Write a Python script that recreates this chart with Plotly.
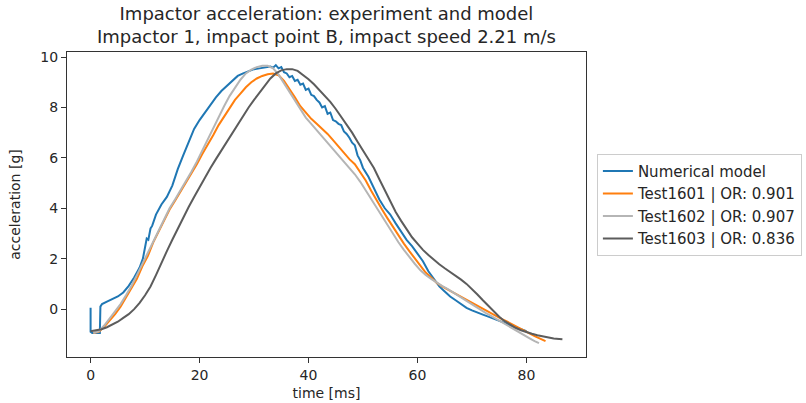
import plotly.graph_objects as go

# ---- data ----
model_t = [0, 0, 0.3, 1.7, 1.8, 2.1, 3, 4, 5, 6, 7, 8, 9, 9.6, 10.0, 10.3, 10.6, 11.0, 11.3, 12, 13, 14, 15, 16, 17, 18, 19, 20,
           21, 22, 23, 24, 25, 26, 27, 28, 29, 30, 31, 32, 33, 33.5, 34, 34.5, 35, 35.5, 36, 36.5, 37, 37.5, 38, 38.5, 39,
           39.5, 40, 40.5, 41, 41.5, 42, 42.5, 43, 43.5, 44, 44.5, 45, 45.5, 46, 46.5, 47, 47.5, 48, 48.5, 49, 49.5, 50,
           51, 52, 53, 54, 55, 56, 57, 58, 59, 60, 61, 62, 63, 64, 65, 66, 67, 68, 69, 70, 71, 72, 73, 74, 75, 76, 77, 78,
           79, 80]
model_a = [0.05, -0.9, -0.95, -0.95, 0.1, 0.2, 0.3, 0.4, 0.5, 0.66, 0.92, 1.25, 1.65, 2.0, 2.45, 2.8, 2.75, 3.2, 3.3, 3.75,
           4.15, 4.45, 4.9, 5.55, 6.1, 6.65, 7.15, 7.5, 7.8, 8.1, 8.4, 8.65, 8.85, 9.05, 9.25, 9.35, 9.45, 9.52, 9.55, 9.6,
           9.62, 9.58, 9.68, 9.55, 9.6, 9.4, 9.35, 9.2, 9.25, 9.05, 9.1, 8.9, 8.95, 8.7, 8.75, 8.5, 8.45, 8.3, 8.2, 8.0,
           8.05, 7.75, 7.8, 7.5, 7.45, 7.35, 7.3, 7.05, 6.95, 6.8, 6.6, 6.5, 6.1, 5.9, 5.6, 5.25, 4.8, 4.35, 4.0, 3.75,
           3.4, 3.05, 2.75, 2.5, 2.2, 1.9, 1.5, 1.2, 0.9, 0.7, 0.5, 0.35, 0.2, 0.05, -0.05, -0.15, -0.22, -0.3, -0.38,
           -0.46, -0.55, -0.63, -0.72, -0.8, -0.88]

t1601 = [0.5, 1.5, 2.5, 3.5, 4.5, 5.5, 6.5, 7.5, 8.5, 9.5, 10.5, 11.5, 12.5, 13.5, 14.5, 15.5, 16.5, 17.5, 18.5, 19.5, 20.5,
         21.5, 22.5, 23.5, 24.5, 25.5, 26.5, 27.5, 28.5, 29.5, 30.5, 31.5, 32.5, 33.5, 34.5, 35.5, 36.5, 37.5, 38.5, 39.5,
         40.5, 41.5, 42.5, 43.5, 44.5, 45.5, 46.5, 47.5, 48.5, 49.5, 50.5, 51.5, 52.5, 53.5, 54.5, 55.5, 56.5, 57.5, 58.5,
         59.5, 60.5, 61.5, 62.5, 63.5, 64.5, 65.5, 66.5, 67.5, 68.5, 69.5, 70.5, 71.5, 72.5, 73.5, 74.5, 75.5, 76.5, 77.5,
         78.5, 79.5, 80.5, 81.5, 82.5, 83.5]
a1601 = [-0.95, -0.9, -0.7, -0.45, -0.2, 0.1, 0.45, 0.8, 1.2, 1.7, 2.1, 2.65, 3.1, 3.55, 3.95, 4.3, 4.65, 5.0, 5.35, 5.75,
         6.15, 6.5, 6.9, 7.3, 7.65, 8.0, 8.3, 8.55, 8.8, 9.0, 9.15, 9.25, 9.32, 9.35, 9.28, 9.05, 8.75, 8.4, 8.05, 7.8,
         7.55, 7.35, 7.15, 6.95, 6.7, 6.45, 6.2, 5.95, 5.75, 5.45, 5.1, 4.7, 4.3, 3.95, 3.6, 3.25, 2.9, 2.6, 2.3, 2.0,
         1.7, 1.45, 1.25, 1.05, 0.9, 0.78, 0.68, 0.55, 0.42, 0.3, 0.18, 0.05, -0.07, -0.18, -0.3, -0.4, -0.5, -0.62,
         -0.73, -0.84, -0.95, -1.07, -1.17, -1.27]

t1602 = [0.5, 1.5, 2.5, 3.5, 4.5, 5.5, 6.5, 7.5, 8.5, 9.5, 10.5, 11.5, 12.5, 13.5, 14.5, 15.5, 16.5, 17.5, 18.5, 19.5, 20.5,
         21.5, 22.5, 23.5, 24.5, 25.5, 26.5, 27.5, 28.5, 29.5, 30.5, 31.5, 32.5, 33.5, 34.5, 35.5, 36.5, 37.5, 38.5, 39.5,
         40.5, 41.5, 42.5, 43.5, 44.5, 45.5, 46.5, 47.5, 48.5, 49.5, 50.5, 51.5, 52.5, 53.5, 54.5, 55.5, 56.5, 57.5, 58.5,
         59.5, 60.5, 61.5, 62.5, 63.5, 64.5, 65.5, 66.5, 67.5, 68.5, 69.5, 70.5, 71.5, 72.5, 73.5, 74.5, 75.5, 76.5, 77.5,
         78.5, 79.5, 80.5, 81.5, 82.3]
a1602 = [-0.95, -0.88, -0.65, -0.38, -0.1, 0.2, 0.55, 0.92, 1.35, 1.8, 2.2, 2.7, 3.15, 3.6, 4.0, 4.35, 4.7, 5.05, 5.45,
         5.85, 6.3, 6.75, 7.2, 7.65, 8.05, 8.45, 8.8, 9.1, 9.35, 9.5, 9.6, 9.65, 9.65, 9.55, 9.3, 8.95, 8.6, 8.25, 7.9,
         7.6, 7.35, 7.1, 6.85, 6.6, 6.35, 6.1, 5.85, 5.6, 5.35, 5.05, 4.7, 4.35, 4.0, 3.65, 3.3, 2.95, 2.65, 2.35, 2.05,
         1.8, 1.55, 1.35, 1.2, 1.05, 0.92, 0.8, 0.66, 0.52, 0.4, 0.25, 0.1, -0.03, -0.15, -0.27, -0.4, -0.52, -0.65,
         -0.77, -0.9, -1.02, -1.15, -1.27, -1.35]

t1603 = [0, 1, 2, 3, 4, 5, 6, 7, 8, 9, 10, 11, 12, 13, 14, 15, 16, 17, 18, 19, 20, 21, 22, 23, 24, 25, 26, 27, 28, 29, 30,
         31, 32, 33, 34, 35, 36, 37, 38, 39, 40, 41, 42, 43, 44, 45, 46, 47, 48, 49, 50, 51, 52, 53, 54, 55, 56, 57, 58,
         59, 60, 61, 62, 63, 64, 65, 66, 67, 68, 69, 70, 71, 72, 73, 74, 75, 76, 77, 78, 79, 80, 81, 82, 83, 84, 85, 86,
         86.6]
a1603 = [-0.88, -0.85, -0.8, -0.72, -0.62, -0.5, -0.35, -0.2, 0.0, 0.25, 0.55, 0.9, 1.35, 1.85, 2.3, 2.75, 3.2, 3.6, 4.05,
         4.45, 4.85, 5.25, 5.6, 5.95, 6.3, 6.65, 7.0, 7.35, 7.7, 8.0, 8.3, 8.6, 8.9, 9.15, 9.35, 9.47, 9.52, 9.52, 9.45,
         9.3, 9.12, 8.92, 8.7, 8.47, 8.22, 7.94, 7.64, 7.32, 7.0, 6.64, 6.3, 5.96, 5.6, 5.15, 4.7, 4.25, 3.85, 3.5, 3.15,
         2.85, 2.6, 2.35, 2.15, 1.95, 1.78, 1.62, 1.48, 1.33, 1.17, 1.0, 0.8, 0.58, 0.35, 0.12, -0.1, -0.3, -0.48, -0.62,
         -0.74, -0.84, -0.92, -0.98, -1.04, -1.09, -1.13, -1.17, -1.19, -1.2]

names = ["Numerical model", "Test1601 | OR: 0.901", "Test1602 | OR: 0.907", "Test1603 | OR: 0.836"]
colors = ["#1f77b4", "#ff7f0e", "#b5b5b5", "#5c5c5c"]
x_ticks = [0, 20, 40, 60, 80]
y_ticks = [0, 2, 4, 6, 8, 10]
title_text = "Impactor acceleration: experiment and model<br>Impactor 1, impact point B, impact speed 2.21 m/s"

FONT = "DejaVu Sans"
fig = go.Figure()
for t, a, n, c in zip([model_t, t1601, t1602, t1603], [model_a, a1601, a1602, a1603], names, colors):
    fig.add_trace(go.Scatter(x=t, y=a, mode="lines", name=n, line=dict(color=c, width=2)))

axis_common = dict(showline=True, mirror=True, linecolor="#333333", linewidth=1.2, ticks="outside", ticklen=5,
                   tickwidth=1.2, tickcolor="#333333", showgrid=False, zeroline=False, automargin=False,
                   tickfont=dict(family=FONT, size=14, color="#262626"))
fig.update_layout(
    width=806, height=403,
    margin=dict(l=67, r=220, t=52, b=46, autoexpand=False),
    paper_bgcolor="white", plot_bgcolor="white",
    font=dict(family=FONT, color="#262626"),
    xaxis=dict(range=[-4.33, 90.93], tickvals=x_ticks,
               title=dict(text="time [ms]", font=dict(family=FONT, size=14), standoff=6), **axis_common),
    yaxis=dict(range=[-1.9, 10.2], tickvals=y_ticks,
               title=dict(text="acceleration [g]", font=dict(family=FONT, size=14), standoff=16), **axis_common),
    legend=dict(x=1.021, xanchor="left", y=0.666, yanchor="top", bordercolor="#cccccc", borderwidth=1,
                font=dict(family=FONT, size=15, color="#262626"), bgcolor="white", tracegroupgap=0),
    showlegend=True,
    annotations=[dict(text=title_text, x=0.5, xref="paper", xanchor="center", y=1, yref="paper",
                      yanchor="bottom", yshift=3, showarrow=False,
                      font=dict(family=FONT, size=18, color="#262626"))],
)
# remove the browser's default 8px body margin so the figure starts at the window corner
fig.write_html("out.html", config={"displayModeBar": False},
               post_script="document.body.style.margin='0';document.body.style.overflow='hidden';")
